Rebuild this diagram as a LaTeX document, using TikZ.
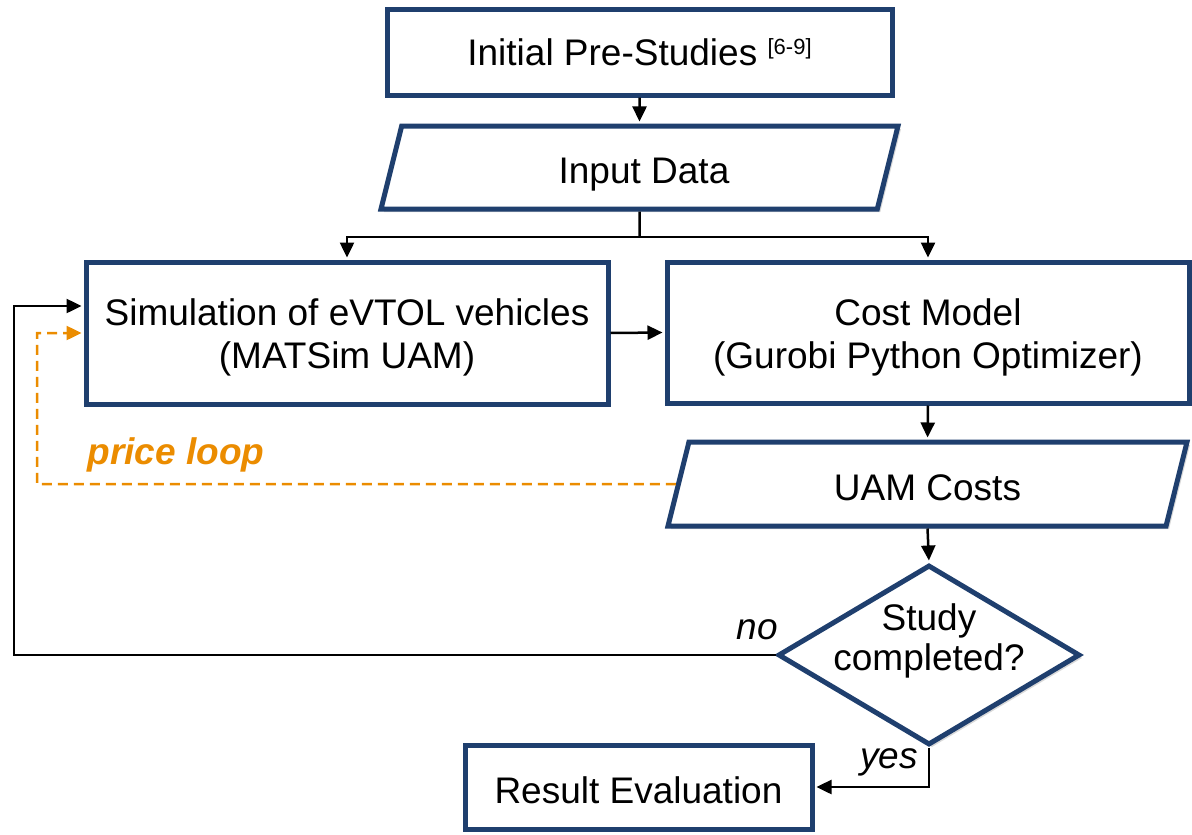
\documentclass[tikz,border=0pt]{standalone}
\usepackage{fontspec}
\setmainfont{Liberation Sans}
\usetikzlibrary{shapes.geometric,arrows.meta,shadows}
\definecolor{boxblue}{HTML}{1F3F6E}
\definecolor{looporange}{HTML}{EB8C00}
\begin{document}
\begin{tikzpicture}[x=1pt,y=-1pt,
  every node/.style={font=\fontsize{37}{43}\selectfont},
  box/.style={draw=boxblue, line width=5pt, fill=white, rectangle, inner sep=0pt, align=center,
    drop shadow={shadow xshift=3pt, shadow yshift=-3pt, opacity=0.3}},
  para/.style={box, trapezium, trapezium left angle=76, trapezium right angle=104,
    trapezium stretches body, text height=34pt, text depth=2pt, inner xsep=0pt},
  decision/.style={box, diamond, shape aspect=1.68},
  conn/.style={draw=black, line width=2.5pt},
  arr/.style={conn, -{Triangle[length=15pt,width=14pt]}, shorten >=2pt},
  ploop/.style={draw=looporange, line width=2.5pt, dash pattern=on 10pt off 6pt,
    -{Triangle[length=15pt,width=14pt]}, shorten >=2pt},
  lbl/.style={inner sep=0pt},
]
\useasboundingbox (0,0) rectangle (1192,835);

\node[box, minimum width=505pt, minimum height=86pt] (pre) at (639.5,52)
  {Initial Pre-Studies \raisebox{11.5pt}{\fontsize{22}{22}\selectfont[6-9]}};
\node[para, minimum width=517pt, inner ysep=23.5pt] (input) at (639.5,167.5) {\hspace{9pt}Input Data};
\node[box, minimum width=522pt, minimum height=142pt] (sim) at (347,333)
  {\raisebox{8pt}[0pt][0pt]{\parbox[t]{520pt}{\centering Simulation of eVTOL vehicles\\(MATSim UAM)}}};
\node[box, minimum width=522pt, minimum height=141pt] (cost) at (928,332.5)
  {\raisebox{7.5pt}[0pt][0pt]{\parbox[t]{520pt}{\centering Cost Model\\(Gurobi Python Optimizer)}}};
\node[para, minimum width=519pt, inner ysep=24pt] (uam) at (927.5,484) {UAM Costs};
\node[decision, minimum width=302pt, minimum height=180pt] (dec) at (929,655)
  {\fontsize{37}{40}\selectfont\raisebox{25pt}[0pt][0pt]{\parbox[t]{220pt}{\centering Study\\completed?}}};
\node[box, minimum width=347pt, minimum height=84pt, text height=32pt, text depth=0pt] (res) at (638.5,787) {Result Evaluation};

\node[lbl] (no) at (757,630) {\itshape no};
\node[lbl] (yes) at (889,762) {\itshape yes};
\node[lbl, text=looporange] (pl) at (176,455) {\bfseries\itshape price loop};

\coordinate (split) at (639.5,237);
\coordinate (n1) at (14,655);
\coordinate (n2) at (14,306);
\coordinate (p1) at (37,484);
\coordinate (p2) at (37,333);

\draw[arr] (pre.south) -- (input.north);
\draw[conn] (input.south) -- (split);
\draw[arr] (split) -| (sim.north);
\draw[arr] (split) -| (cost.north);
\draw[arr] (sim.east) -- (cost.west);
\draw[arr] (cost.south) -- (uam.north);
\draw[arr] (uam.south) -- (dec.north);
\draw[arr] (dec.west) -- (n1) -- (n2) -- (n2 -| sim.west);
\draw[ploop] (uam.west) -- (p1) -- (p2) -- (p2 -| sim.west);
\draw[arr] (dec.south) |- (res.east);
\end{tikzpicture}
\end{document}
